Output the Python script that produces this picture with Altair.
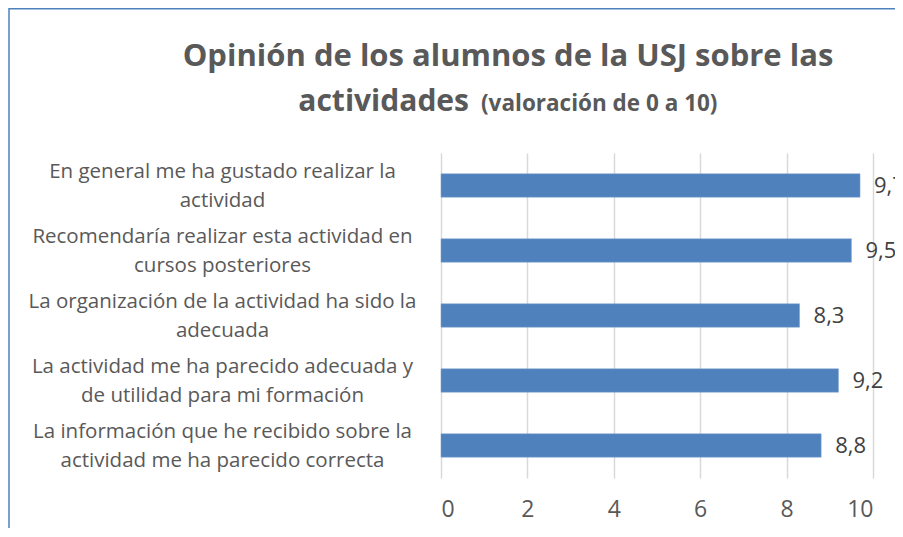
import altair as alt
import pandas as pd

categories = [
    ["En general me ha gustado realizar la", "actividad"],
    ["Recomendaría realizar esta actividad en", "cursos posteriores"],
    ["La organización de la actividad ha sido la", "adecuada"],
    ["La actividad me ha parecido adecuada y", "de utilidad para mi formación"],
    ["La información que he recibido sobre la", "actividad me ha parecido correcta"],
]
values = [9.7, 9.5, 8.3, 9.2, 8.8]
x_ticks = [0, 2, 4, 6, 8, 10]

title_line1 = "Opinión de los alumnos de la USJ sobre las"
title_line2a = "actividades"
title_line2b = "(valoración de 0 a 10)"

keys = ["|".join(c) for c in categories]
df = pd.DataFrame({"cat": keys, "value": values})

FONT = "Open Sans"
GRAY = "#595959"
BLUE = "#4F81BD"

y_enc = alt.Y(
    "cat:N",
    sort=keys,
    scale=alt.Scale(paddingInner=0.64, paddingOuter=0.32),
    axis=alt.Axis(
        title=None,
        ticks=False,
        domain=False,
        grid=False,
        labelAlign="center",
        labelPadding=219,
        labelOffset=-14,
        labelFont=FONT,
        labelFontSize=20.5,
        labelColor=GRAY,
        labelLineHeight=29,
        labelExpr="split(datum.label, '|')",
        labelLimit=0,
    ),
)
x_enc = alt.X(
    "value:Q",
    scale=alt.Scale(domain=[0, 10], nice=False),
    axis=alt.Axis(
        title=None,
        values=x_ticks,
        ticks=False,
        domain=False,
        grid=True,
        gridColor="#D9D9D9",
        gridWidth=1.5,
        labelFont=FONT,
        labelFontSize=23,
        labelColor=GRAY,
        labelPadding=20,
    ),
)

bars = alt.Chart(df).mark_bar(color=BLUE, stroke="#7FA3D3", strokeWidth=0.5).encode(
    x=x_enc, y=y_enc
)

labels = (
    alt.Chart(df)
    .transform_calculate(lbl="replace(format(datum.value, '.1f'), '.', ',')")
    .mark_text(align="left", dx=14, font=FONT, fontSize=22, color="#404040")
    .encode(x="value:Q", y=alt.Y("cat:N", sort=keys), text="lbl:N")
)

tdf = pd.DataFrame({"a": [0]})
t1 = alt.Chart(tdf).mark_text(
    text=title_line1, font=FONT, fontSize=31, fontWeight="bold", color=GRAY,
    align="center", baseline="alphabetic",
).encode(x=alt.value(67), y=alt.value(-87))
t2 = alt.Chart(tdf).mark_text(
    text=title_line2a, font=FONT, fontSize=30, fontWeight="bold", color=GRAY,
    align="right", baseline="alphabetic",
).encode(x=alt.value(28), y=alt.value(-42))
t3 = alt.Chart(tdf).mark_text(
    text=title_line2b, font=FONT, fontSize=22.5, fontWeight="bold", color=GRAY,
    align="left", baseline="alphabetic",
).encode(x=alt.value(40), y=alt.value(-42))

border = alt.Chart(tdf).mark_rect(
    fill="transparent", stroke=BLUE, strokeWidth=1.5
).encode(
    x=alt.value(-432), x2=alt.value(600), y=alt.value(-144.25), y2=alt.value(600)
)

chart = (
    alt.layer(border, bars, labels, t1, t2, t3)
    .properties(
        width=432,
        height=325,
        background="white",
        autosize=alt.AutoSizeParams(type="none"),
        padding={"left": 433, "top": 145, "right": 22, "bottom": 50},
    )
    .configure_view(stroke="transparent", strokeWidth=0)
)

chart.save("out.html", embed_options={"renderer": "svg", "actions": False})
